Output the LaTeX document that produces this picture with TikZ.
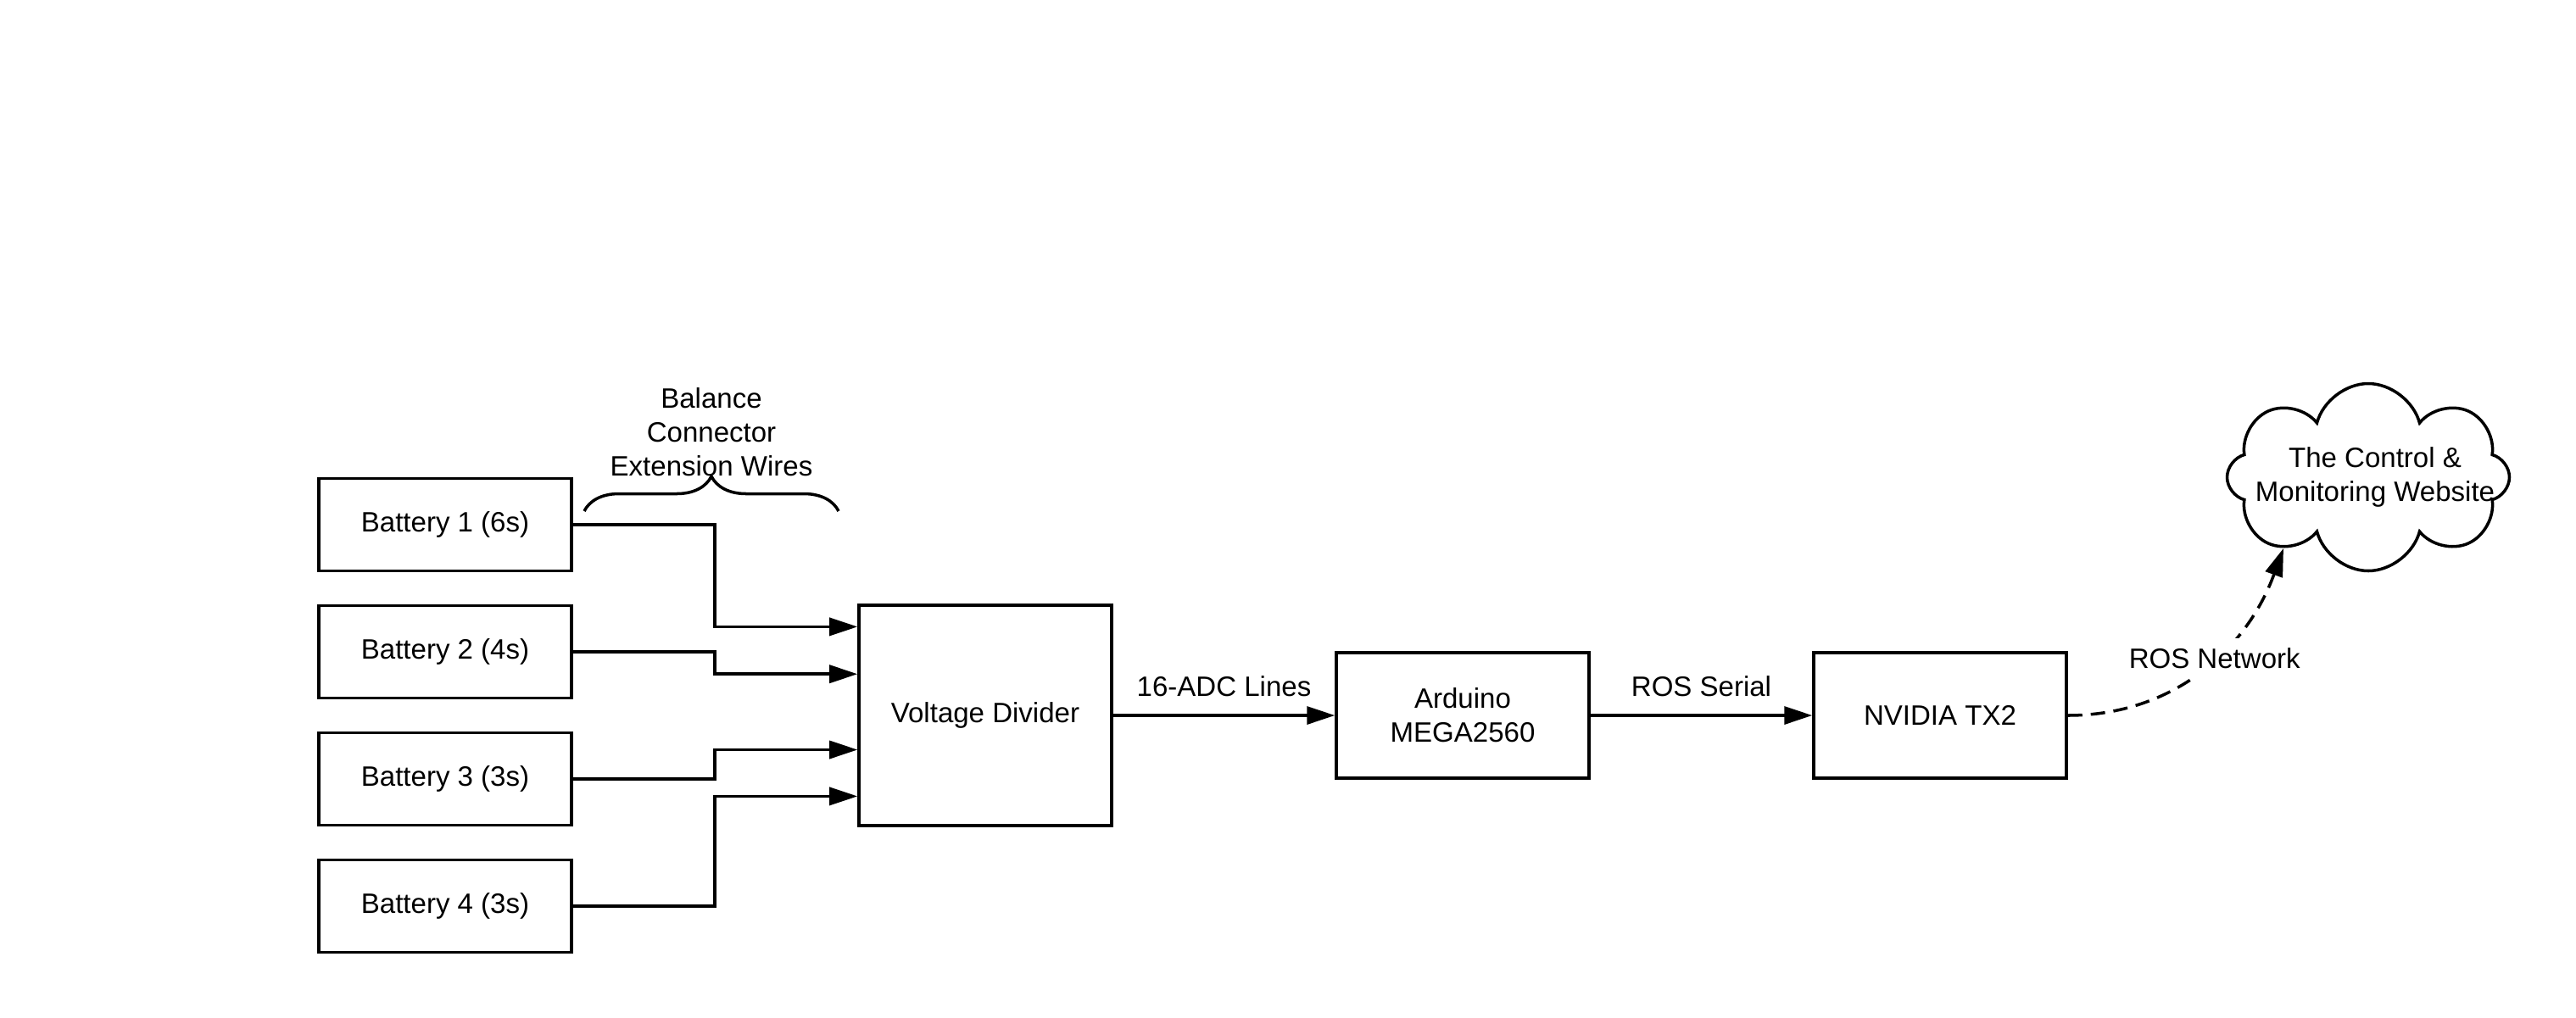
\documentclass[tikz,border=0pt]{standalone}
\usepackage{fontspec}
\setmainfont{Liberation Sans}
\usetikzlibrary{arrows.meta,shapes.symbols,decorations.pathreplacing}

\begin{document}
\begin{tikzpicture}[node distance=15mm, line width=1pt,
  >={Triangle[length=3.3mm,width=2.1mm]},
  every node/.style={font=\fontsize{9.4}{11.4}\selectfont},
  block/.style={rectangle, draw, minimum width=29.8mm, minimum height=10.9mm, align=center}]
  \useasboundingbox (0,0) rectangle (303.8mm,-120mm);
  \node[block] at (52.5mm,-61.9mm) (bat1) {Battery 1 (6s)};
  \node[block, below of=bat1] (bat2) {Battery 2 (4s)};
  \node[block, below of=bat2] (bat3) {Battery 3 (3s)};
  \node[block, below of=bat3] (bat4) {Battery 4 (3s)};
  \node[block, minimum height=26mm, right of=bat2, node distance=63.7mm, yshift=-7.5mm] (vd) {Voltage Divider};
  \node[block, minimum height=14.8mm, right of=vd, node distance=56.3mm] (ard) {Arduino\\MEGA2560};
  \node[block, minimum height=14.8mm, right of=ard, node distance=56.3mm] (tx2) {NVIDIA TX2};
  \node[cloud, draw, cloud puffs=8, aspect=1.5, minimum width=33.3mm, minimum height=22.1mm, right of=tx2, node distance=50.5mm, yshift=28.1mm] (web) {};
  \node[align=center, xshift=0.8mm] at (web) (webtxt) {The Control \&\\Monitoring Website};
  % balance leads
  \coordinate (brl) at (68.9mm,-60.3mm);
  \coordinate (brr) at (98.9mm,-60.3mm);
  \draw[decorate, decoration={brace, amplitude=4.1mm}] (brl) -- (brr);
  \node[align=center] at (83.9mm,-51mm) (brtxt) {Balance\\Connector\\Extension Wires};
  \draw[->] (bat1.east) -- ++(16.7mm,0) |- ([yshift=10.46mm]vd.west);
  \draw[->] (bat2.east) -- ++(16.7mm,0) |- ([yshift=4.88mm]vd.west);
  \draw[->] (bat3.east) -- ++(16.7mm,0) |- ([yshift=-4.05mm]vd.west);
  \draw[->] (bat4.east) -- ++(16.7mm,0) |- ([yshift=-9.54mm]vd.west);
  \draw[->] (vd) -- node[above, inner sep=2mm] (adc) {16-ADC Lines} (ard);
  \draw[->] (ard) -- node[above, inner sep=2mm] (ser) {ROS Serial} (tx2);
  \draw[->, dash pattern=on 1.7mm off 1mm] (tx2.east) to[out=0, in=250] node[pos=0.56, fill=white] (rosnet) {ROS Network} (web.220);
\end{tikzpicture}
\end{document}
